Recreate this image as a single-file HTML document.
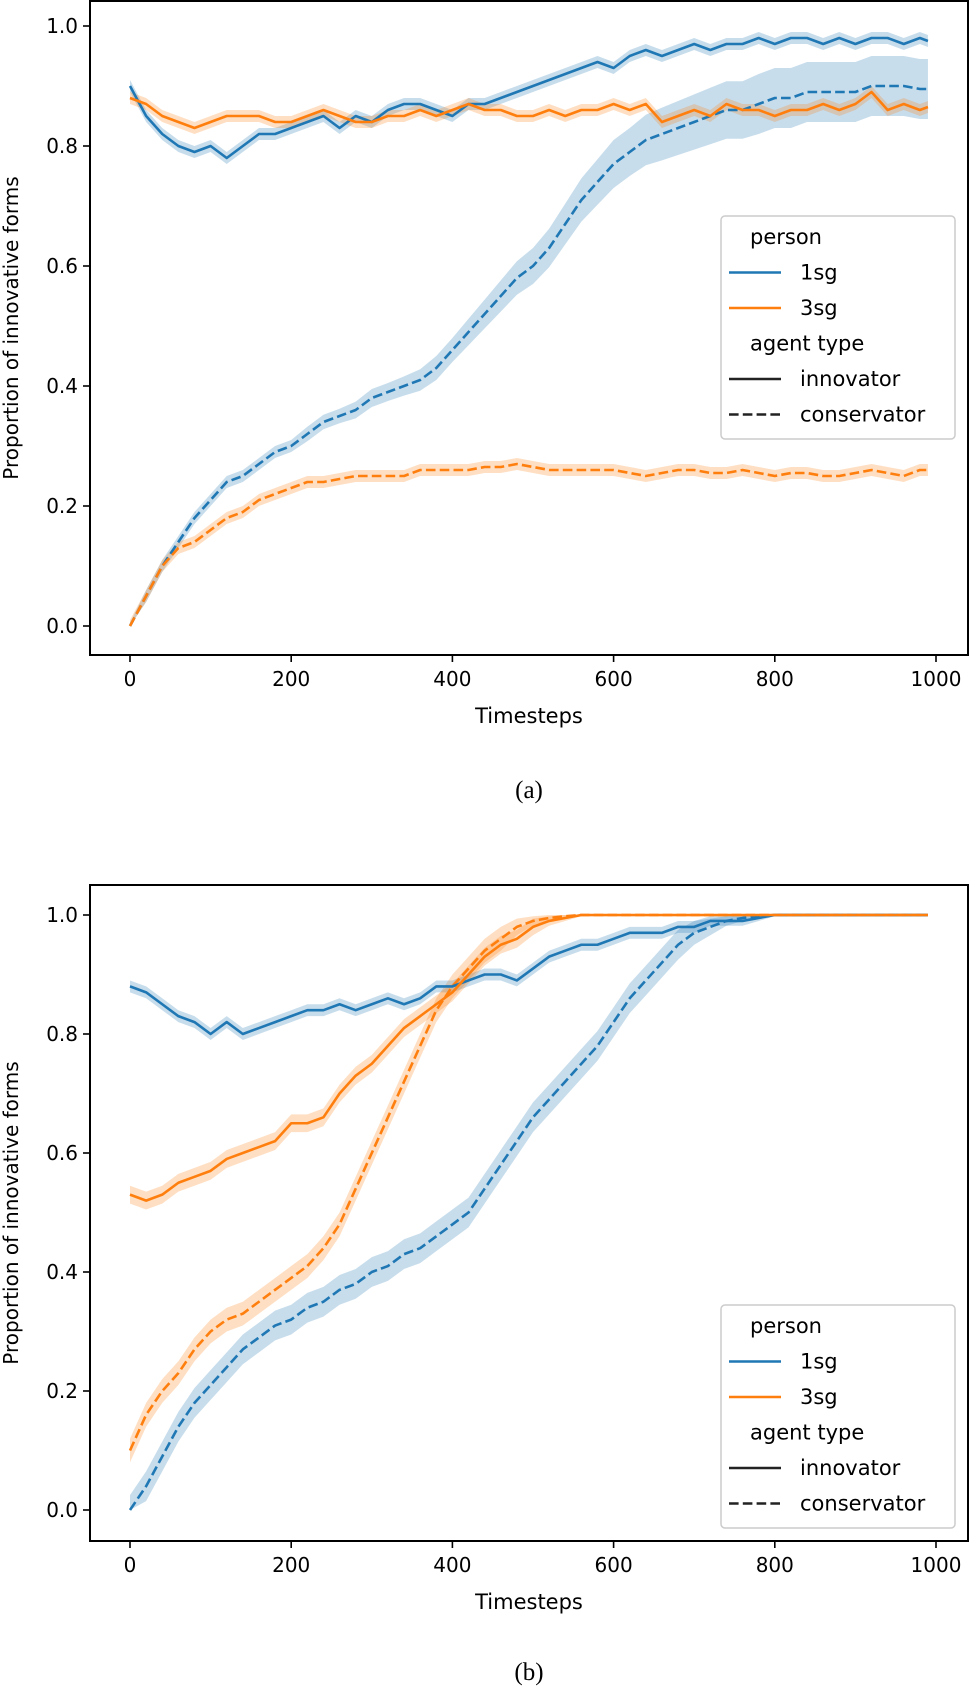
<!DOCTYPE html>
<html><head><meta charset="utf-8">
<style>
html,body{margin:0;padding:0;background:#fff;}
svg{display:block;font-family:"DejaVu Sans","Liberation Sans",sans-serif;}
</style></head>
<body>
<svg id="fig" width="969" height="1691" viewBox="0 0 969 1691" xmlns="http://www.w3.org/2000/svg"></svg>
<script>
const TIMESTEPS = [0,20,40,60,80,100,120,140,160,180,200,220,240,260,280,300,320,340,360,380,400,420,440,460,480,500,520,540,560,580,600,620,640,660,680,700,720,740,760,780,800,820,840,860,880,900,920,940,960,980,990];
const X_TICKS = [0,200,400,600,800,1000];
const Y_TICKS = [0.0,0.2,0.4,0.6,0.8,1.0];
const Y_TICK_LABELS = ["0.0","0.2","0.4","0.6","0.8","1.0"];

// Panel (a)
const A_1SG_INNOV = [0.90,0.85,0.82,0.80,0.79,0.80,0.78,0.80,0.82,0.82,0.83,0.84,0.85,0.83,0.85,0.84,0.86,0.87,0.87,0.86,0.85,0.87,0.87,0.88,0.89,0.90,0.91,0.92,0.93,0.94,0.93,0.95,0.96,0.95,0.96,0.97,0.96,0.97,0.97,0.98,0.97,0.98,0.98,0.97,0.98,0.97,0.98,0.98,0.97,0.98,0.975];
const A_3SG_INNOV = [0.88,0.87,0.85,0.84,0.83,0.84,0.85,0.85,0.85,0.84,0.84,0.85,0.86,0.85,0.84,0.84,0.85,0.85,0.86,0.85,0.86,0.87,0.86,0.86,0.85,0.85,0.86,0.85,0.86,0.86,0.87,0.86,0.87,0.84,0.85,0.86,0.85,0.87,0.86,0.86,0.85,0.86,0.86,0.87,0.86,0.87,0.89,0.86,0.87,0.86,0.865];
const A_1SG_CONS = [0.00,0.05,0.10,0.14,0.18,0.21,0.24,0.25,0.27,0.29,0.30,0.32,0.34,0.35,0.36,0.38,0.39,0.40,0.41,0.43,0.46,0.49,0.52,0.55,0.58,0.60,0.63,0.67,0.71,0.74,0.77,0.79,0.81,0.82,0.83,0.84,0.85,0.86,0.86,0.87,0.88,0.88,0.89,0.89,0.89,0.89,0.90,0.90,0.90,0.895,0.895];
const A_3SG_CONS = [0.00,0.05,0.10,0.13,0.14,0.16,0.18,0.19,0.21,0.22,0.23,0.24,0.24,0.245,0.25,0.25,0.25,0.25,0.26,0.26,0.26,0.26,0.265,0.265,0.27,0.265,0.26,0.26,0.26,0.26,0.26,0.255,0.25,0.255,0.26,0.26,0.255,0.255,0.26,0.255,0.25,0.255,0.255,0.25,0.25,0.255,0.26,0.255,0.25,0.26,0.26];
const A_1SG_CONS_ERR = [0.005,0.01,0.01,0.01,0.01,0.01,0.01,0.01,0.01,0.01,0.01,0.012,0.012,0.012,0.014,0.015,0.015,0.016,0.018,0.02,0.02,0.022,0.024,0.026,0.028,0.03,0.032,0.034,0.036,0.038,0.04,0.04,0.042,0.044,0.045,0.046,0.047,0.048,0.048,0.05,0.05,0.05,0.05,0.05,0.05,0.05,0.05,0.05,0.05,0.05,0.05];

// Panel (b)
const B_1SG_INNOV = [0.88,0.87,0.85,0.83,0.82,0.80,0.82,0.80,0.81,0.82,0.83,0.84,0.84,0.85,0.84,0.85,0.86,0.85,0.86,0.88,0.88,0.89,0.90,0.90,0.89,0.91,0.93,0.94,0.95,0.95,0.96,0.97,0.97,0.97,0.98,0.98,0.99,0.99,0.99,0.995,1.0,1.0,1.0,1.0,1.0,1.0,1.0,1.0,1.0,1.0,1.0];
const B_3SG_INNOV = [0.53,0.52,0.53,0.55,0.56,0.57,0.59,0.60,0.61,0.62,0.65,0.65,0.66,0.70,0.73,0.75,0.78,0.81,0.83,0.85,0.87,0.90,0.93,0.95,0.96,0.98,0.99,0.995,1.0,1.0,1.0,1.0,1.0,1.0,1.0,1.0,1.0,1.0,1.0,1.0,1.0,1.0,1.0,1.0,1.0,1.0,1.0,1.0,1.0,1.0,1.0];
const B_3SG_CONS = [0.10,0.16,0.20,0.23,0.27,0.30,0.32,0.33,0.35,0.37,0.39,0.41,0.44,0.48,0.54,0.60,0.66,0.72,0.78,0.84,0.88,0.91,0.94,0.96,0.98,0.99,0.995,0.998,1.0,1.0,1.0,1.0,1.0,1.0,1.0,1.0,1.0,1.0,1.0,1.0,1.0,1.0,1.0,1.0,1.0,1.0,1.0,1.0,1.0,1.0,1.0];
const B_1SG_CONS = [0.00,0.04,0.09,0.14,0.18,0.21,0.24,0.27,0.29,0.31,0.32,0.34,0.35,0.37,0.38,0.40,0.41,0.43,0.44,0.46,0.48,0.50,0.54,0.58,0.62,0.66,0.69,0.72,0.75,0.78,0.82,0.86,0.89,0.92,0.95,0.97,0.98,0.99,0.995,0.998,1.0,1.0,1.0,1.0,1.0,1.0,1.0,1.0,1.0,1.0,1.0];

const NS = "http://www.w3.org/2000/svg";
const svg = document.getElementById('fig');
const BLUE = "#1f77b4", ORANGE = "#ff7f0e";
function mk(tag, attrs, parent){ const e=document.createElementNS(NS,tag); for(const k in attrs) e.setAttribute(k,attrs[k]); (parent||svg).appendChild(e); return e; }

function panel(cfg){
  const g = mk('g',{});
  
  
  const L=90,R=968,T=cfg.top,B=cfg.bottom,y0=cfg.y0,y1=cfg.y1;
  const xs = v => 130 + (v/1000)*806;
  const ys = v => y0 + (y1-y0)*v;
  function band(vals, errs, color){
    let up=[],dn=[];
    for(let i=0;i<vals.length;i++){
      let e=Array.isArray(errs)?errs[i]:errs;
      e=Math.min(e,(1-vals[i])*0.6+0.002);
      up.push(xs(TIMESTEPS[i])+','+ys(Math.min(1.0,vals[i]+e)));
      dn.unshift(xs(TIMESTEPS[i])+','+ys(Math.max(0,vals[i]-e)));
    }
    const p = mk('polygon',{points:up.concat(dn).join(' '),fill:color,'fill-opacity':0.25,stroke:'none'},g);
    
    
  }
  function line(vals, color, dashed, name){
    const pts = vals.map((v,i)=>xs(TIMESTEPS[i])+','+ys(v)).join(' ');
    const l = mk('polyline',{points:pts,fill:'none',stroke:color,'stroke-width':2.6,'stroke-linejoin':'round','stroke-dasharray':dashed?'9.6,4.2':'none'},g);
    
    
  }
  cfg.series.forEach(s=>band(s.vals,s.err,s.color));
  cfg.series.forEach(s=>line(s.vals,s.color,s.dashed,s.name));
  const frame = mk('rect',{x:L,y:T,width:R-L,height:B-T,fill:'none',stroke:'#000','stroke-width':2},g);
  
  
  X_TICKS.forEach(t=>{
    mk('line',{x1:xs(t),x2:xs(t),y1:B,y2:B+7,stroke:'#000','stroke-width':1.6},g);
    const tx = mk('text',{x:xs(t),y:B+31,'font-size':20,'text-anchor':'middle',fill:'#000'},g);
    tx.textContent = t;
    
    
  });
  Y_TICKS.forEach((t,i)=>{
    mk('line',{x1:L-7,x2:L,y1:ys(t),y2:ys(t),stroke:'#000','stroke-width':1.6},g);
    const ty = mk('text',{x:L-12,y:ys(t)+7,'font-size':20,'text-anchor':'end',fill:'#000'},g);
    ty.textContent = Y_TICK_LABELS[i];
    
    
  });
  const xt = mk('text',{x:529,y:B+68,'font-size':21,'text-anchor':'middle'},g);
  xt.textContent='Timesteps';
  
  
  const cy=(T+B)/2;
  const yt = mk('text',{x:18,y:cy,'font-size':20,'text-anchor':'middle',transform:`rotate(-90 18 ${cy})`},g);
  yt.textContent='Proportion of innovative forms';
  
  
  const lg = mk('g',{},g);
  
  
  const LT = cfg.legendTop;
  mk('rect',{x:721,y:LT,width:234,height:223,rx:4,fill:'#fff','fill-opacity':0.85,stroke:'#ccc','stroke-width':1.5},lg);
  const rows=[['person',null,null],['1sg',BLUE,false],['3sg',ORANGE,false],['agent type',null,null],['innovator','#222',false],['conservator','#222',true]];
  rows.forEach((r,i)=>{
    const y = LT+28+i*35.5;
    if(r[1]){
      const h = mk('line',{x1:729,x2:781,y1:y-7,y2:y-7,stroke:r[1],'stroke-width':2.6,'stroke-dasharray':r[2]?'9.6,4.2':'none'},lg);
      
      
    }
    const tx = mk('text',{x:r[1]?800:750,y:y,'font-size':21},lg);
    tx.textContent=r[0];
    
    
  });
  const cap = mk('text',{x:529,y:cfg.capY,'font-size':25,'text-anchor':'middle','font-family':'"Liberation Serif",serif'},g);
  cap.textContent=cfg.caption;
  
  
}

panel({name:'panel-a',top:1,bottom:655,y0:626,y1:26,legendTop:216,capY:798,caption:'(a)',series:[
  {vals:A_1SG_CONS,err:A_1SG_CONS_ERR,color:BLUE,dashed:true,name:'line-1sg-conservator'},
  {vals:A_3SG_CONS,err:0.01,color:ORANGE,dashed:true,name:'line-3sg-conservator'},
  {vals:A_1SG_INNOV,err:0.01,color:BLUE,dashed:false,name:'line-1sg-innovator'},
  {vals:A_3SG_INNOV,err:0.01,color:ORANGE,dashed:false,name:'line-3sg-innovator'}]});
panel({name:'panel-b',top:885,bottom:1541,y0:1510,y1:915,legendTop:1305,capY:1680,caption:'(b)',series:[
  {vals:B_1SG_CONS,err:0.025,color:BLUE,dashed:true,name:'line-1sg-conservator'},
  {vals:B_3SG_CONS,err:0.02,color:ORANGE,dashed:true,name:'line-3sg-conservator'},
  {vals:B_1SG_INNOV,err:0.01,color:BLUE,dashed:false,name:'line-1sg-innovator'},
  {vals:B_3SG_INNOV,err:0.015,color:ORANGE,dashed:false,name:'line-3sg-innovator'}]});
</script>
</body></html>
